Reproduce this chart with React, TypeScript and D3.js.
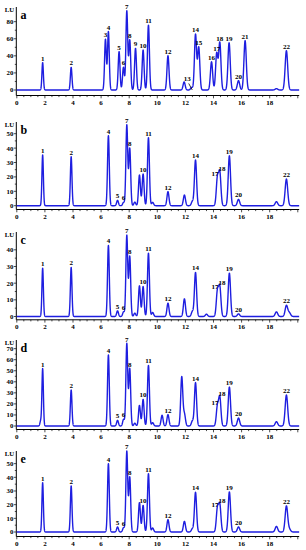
import React from "react";
import * as d3 from "d3";

type Peak = [number, number, string];

const xTicks = [0, 2, 4, 6, 8, 10, 12, 14, 16, 18];

const peaksA: Peak[] = [
  [1.84, 32, "1"], [3.87, 26.5, "2"], [6.31, 59.3, "3"], [6.52, 68.3, "4"], [7.28, 44.9, "5"],
  [7.59, 26.5, "6"], [7.83, 92.5, "7"], [8.04, 58.5, "8"], [8.45, 48.8, "9"], [8.99, 46.8, "10"],
  [9.37, 76, "11"], [10.76, 40.2, "12"], [11.91, 9.4, ""], [12.45, 3, "13"], [12.72, 65, "14"],
  [12.95, 50, "15"], [13.86, 33, "16"], [14.23, 43, "17"], [14.45, 55.4, "18"], [15.11, 55.4, "19"],
  [15.78, 11, "20"], [16.25, 57.8, "21"], [18.48, 1.6, ""], [19.19, 46, "22"],
];
const peaksB: Peak[] = [
  [1.84, 35.2, "1"], [3.87, 34, "2"], [6.52, 48.6, "4"], [7.17, 3.7, "5"], [7.6, 2.3, "6"],
  [7.83, 56, "7"], [8.04, 39.8, "8"], [8.4, 2.5, ""], [8.73, 21.3, ""], [8.99, 22, "10"],
  [9.37, 47.2, "11"], [9.67, 2.3, ""], [10.76, 9.7, "12"], [11.93, 7.4, ""], [12.5, 3, ""],
  [12.72, 31.7, "14"], [14.28, 19, "17"], [14.45, 22.5, "18"], [15.13, 34.7, "19"], [15.78, 4.4, "20"],
  [18.48, 2.8, ""], [19.19, 18.5, "22"],
];
const peaksC: Peak[] = [
  [1.84, 29, "1"], [3.87, 29.4, "2"], [6.52, 42.6, "4"], [7.17, 3.4, "5"], [7.6, 2.8, "6"],
  [7.83, 48.6, "7"], [8.04, 36, "8"], [8.4, 2, ""], [8.73, 18.4, ""], [8.99, 18, "10"],
  [9.37, 38, "11"], [9.67, 2.4, ""], [10.76, 8, "12"], [11.93, 10.6, ""], [12.5, 3, ""],
  [12.72, 26.4, "14"], [13.5, 1.4, ""], [14.28, 15, "17"], [14.45, 17.4, "18"], [15.13, 26, "19"],
  [15.78, 1.6, "20"], [18.48, 2.8, ""], [19.19, 6.6, "22"], [19.4, 2.2, ""],
];
const peaksD: Peak[] = [
  [1.7, 4.5, ""], [1.84, 51.9, "1"], [3.87, 32.6, "2"], [6.52, 64.3, "4"], [7.17, 5.1, "5"],
  [7.6, 6, "6"], [7.83, 74.5, "7"], [8.04, 51.9, "8"], [8.4, 2.5, ""], [8.73, 18.7, ""],
  [8.99, 24.1, "10"], [9.37, 54.9, "11"], [9.67, 3, ""], [10.34, 9.7, ""], [10.76, 10.3, "12"],
  [11.74, 44.4, ""], [11.93, 10.6, ""], [12.5, 4.5, ""], [12.72, 39.2, "14"], [14.28, 17.5, "17"],
  [14.45, 25.6, "18"], [15.13, 35.3, "19"], [15.78, 7.2, "20"], [18.48, 3.9, ""], [19.19, 28, "22"],
];
const peaksE: Peak[] = [
  [1.84, 36.1, "1"], [3.87, 33.7, "2"], [6.52, 50, "4"], [7.17, 3.7, "5"], [7.6, 3.2, "6"],
  [7.83, 59, "7"], [8.04, 40.2, "8"], [8.73, 21.5, ""], [8.99, 19.5, "10"], [9.37, 42.7, "11"],
  [9.67, 2.9, ""], [10.76, 9, "12"], [11.93, 7.8, ""], [12.5, 2.4, ""], [12.72, 29, "14"],
  [14.28, 17, "17"], [14.45, 19.5, "18"], [15.13, 29.3, "19"], [15.78, 3.7, "20"], [18.48, 4.1, ""],
  [19.19, 19, "22"], [19.4, 2, ""],
];

const yTicksA = [0, 20, 40, 60, 80];
const yTicksB = [0, 10, 20, 30, 40, 50];
const yTicksC = [0, 10, 20, 30, 40];
const yTicksD = [0, 10, 20, 30, 40, 50, 60, 70];
const yTicksE = [0, 10, 20, 30, 40, 50];

const panelLetters = ["a", "b", "c", "d", "e"];

const layout = [
  { peaks: peaksA, ticks: yTicksA, minor: 10, y0: 90, k: 0.854, axisY: 95.5, topY: 7 },
  { peaks: peaksB, ticks: yTicksB, minor: 5, y0: 205.7, k: 1.44, axisY: 209.5, topY: 122 },
  { peaks: peaksC, ticks: yTicksC, minor: 5, y0: 316.5, k: 1.667, axisY: 319.8, topY: 232 },
  { peaks: peaksD, ticks: yTicksD, minor: 5, y0: 426, k: 1.105, axisY: 429.5, topY: 340 },
  { peaks: peaksE, ticks: yTicksE, minor: 5, y0: 532, k: 1.367, axisY: 536.5, topY: 451 },
];

const BLUE = "#1e1ee0";
const FONT = "'Liberation Serif', 'Times New Roman', serif";

const x = d3.scaleLinear().domain([0, 20.1]).range([16.8, 299.2]);

function sigmaOf(t: number) {
  return 0.048 + 0.0022 * t;
}

function trace(peaks: Peak[]) {
  const pts: [number, number][] = [];
  for (let t = 0; t <= 20.1; t += 0.004) {
    let v = 0;
    for (const [c, h] of peaks) {
      const s = sigmaOf(c);
      const d = (t - c) / s;
      if (Math.abs(d) < 8) v += h * Math.exp(-0.5 * d * d);
    }
    pts.push([t, v]);
  }
  return pts;
}

const labelDx: Record<string, number> = { "17": -2.5, "18": 2.3 };

function Panel({ idx }: { idx: number }) {
  const L = layout[idx];
  const y = d3
    .scaleLinear()
    .domain([(L.y0 - L.axisY) / L.k, (L.y0 - L.topY) / L.k])
    .range([L.axisY, L.topY]);
  const line = d3
    .line<[number, number]>()
    .x((d) => x(d[0]))
    .y((d) => y(d[1]));
  const data = trace(L.peaks);
  const minorX = d3.range(0, 20.01, 0.5);
  const maxTick = L.ticks[L.ticks.length - 1];
  const minorY = d3.range(0, maxTick + L.minor * 0.99, L.minor).filter((v) => y(v) >= L.topY + 2);
  const xEnd = x.range()[1];
  return (
    <g>
      <line x1={x(0) - 0.5} x2={xEnd} y1={L.axisY} y2={L.axisY} stroke="#000" strokeWidth={1} />
      <line x1={x(0) - 0.5} x2={x(0) - 0.5} y1={L.topY} y2={L.axisY} stroke="#000" strokeWidth={1} />
      {minorX.map((t) => (
        <line
          key={"mx" + t}
          x1={x(t)}
          x2={x(t)}
          y1={L.axisY}
          y2={L.axisY + (t % 2 === 0 ? 2.8 : 1.6)}
          stroke="#000"
          strokeWidth={0.7}
        />
      ))}
      {xTicks.map((t) => (
        <text
          key={"xt" + t}
          x={x(t)}
          y={L.axisY + 9.5}
          textAnchor="middle"
          fontSize={7}
          fontWeight="bold"
          fontFamily={FONT}
        >
          {t}
        </text>
      ))}
      {minorY.map((v) => (
        <line
          key={"my" + v}
          x1={x(0) - 0.5 - (L.ticks.includes(v) ? 2.5 : 1.5)}
          x2={x(0) - 0.5}
          y1={y(v)}
          y2={y(v)}
          stroke="#000"
          strokeWidth={0.7}
        />
      ))}
      {L.ticks.map((v) => (
        <text
          key={"yt" + v}
          x={13.3}
          y={y(v) + 2.4}
          textAnchor="end"
          fontSize={6.8}
          fontWeight="bold"
          fontFamily={FONT}
        >
          {v}
        </text>
      ))}
      <text x={9.5} y={L.topY + 5} textAnchor="middle" fontSize={6.8} fontWeight="bold" fontFamily={FONT}>
        LU
      </text>
      <text x={20.5} y={L.topY + 11.5} fontSize={12} fontWeight="bold" fontFamily={FONT}>
        {panelLetters[idx]}
      </text>
      <path d={line(data) || ""} fill="none" stroke={BLUE} strokeWidth={1.4} strokeLinejoin="round" />
      {L.peaks
        .filter((p) => p[2] !== "")
        .map(([t, h, lab]) => {
          const px = x(t);
          const py = y(h);
          if (lab === "13" && idx === 0) {
            return (
              <g key={lab}>
                <text x={px - 4.5} y={py - 6} textAnchor="middle" fontSize={7} fontWeight="bold" fontFamily={FONT}>
                  {lab}
                </text>
                <line x1={px - 3} y1={py - 4} x2={px + 0.5} y2={py + 2.5} stroke="#000" strokeWidth={0.8} />
              </g>
            );
          }
          const dx = idx > 0 ? labelDx[lab] || 0 : 0;
          return (
            <text
              key={lab}
              x={px + dx}
              y={py - 2}
              textAnchor="middle"
              fontSize={7}
              fontWeight="bold"
              fontFamily={FONT}
            >
              {lab}
            </text>
          );
        })}
    </g>
  );
}

export default function App() {
  return (
    <svg
      width={306}
      height={550}
      style={{ position: "absolute", left: 0, top: 0, background: "#fff" }}
    >
      {layout.map((_, i) => (
        <Panel key={i} idx={i} />
      ))}
    </svg>
  );
}
